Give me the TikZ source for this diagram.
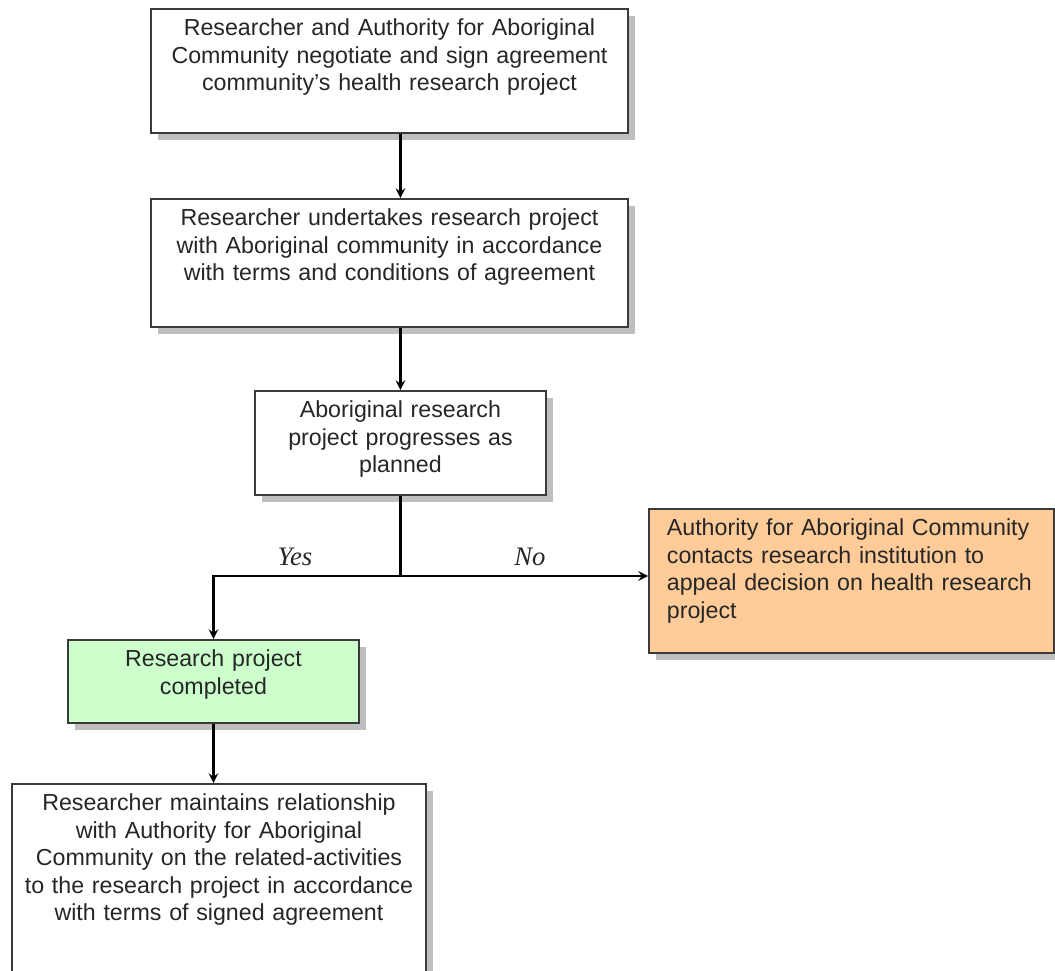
\documentclass[tikz,border=0pt]{standalone}
\usepackage{fontspec}
\setmainfont{Liberation Sans}
\newfontfamily\labelfont{Liberation Serif}
\usetikzlibrary{shapes.geometric, arrows, shadows, positioning}
\definecolor{appealOrange}{HTML}{FFCC99}
\definecolor{doneGreen}{HTML}{CCFFCC}
\definecolor{edgeGray}{HTML}{3A3A3A}
\tikzstyle{recNode} = [rectangle, anchor=north west, align=center, draw=edgeGray, line width=1.3pt, fill=white, inner xsep=0pt, inner ysep=0.15cm, text height=0.525cm, text=black!85, font=\fontsize{16.5}{19.5}\selectfont, drop shadow={shadow xshift=0.17cm, shadow yshift=-0.17cm, fill=black!25, opacity=1}]
\tikzstyle{recNodeO} = [recNode, fill=appealOrange, align=left, inner xsep=0.45cm]
\tikzstyle{recNodeG} = [recNode, fill=doneGreen]
\tikzstyle{eNode} = [text=black!85, font=\labelfont\itshape\fontsize{19}{21}\selectfont]
\tikzstyle{line} = [line width=2pt, draw=black]
\tikzstyle{arrow} = [line width=2pt, ->, >=stealth, draw=black]

\begin{document}
\begin{tikzpicture}[x=0.025cm, y=-0.025cm]
        \useasboundingbox (0,0) rectangle (1055,971);
        \node (agree) [recNode, text width=11.925cm, text depth=2.275cm] at (150,8) {Researcher and Authority for Aboriginal\\Community negotiate and sign agreement\\community's health research project};
        \node (undertake) [recNode, text width=11.925cm, text depth=2.375cm] at (150,198) {Researcher undertakes research project\\with Aboriginal community in accordance\\with terms and conditions of agreement};
        \node (progress) [recNode, text width=7.275cm, text depth=1.775cm] at (254,390) {Aboriginal research\\project progresses as\\planned};
        \node (appeal) [recNodeO, text width=9.225cm, text depth=2.775cm] at (648,508) {Authority for Aboriginal Community\\contacts research institution to\\appeal decision on health research\\project};
        \node (completed) [recNodeG, text width=7.275cm, text depth=1.25cm] at (67,639) {Research project\\completed};
        \node (maintain) [recNode, text width=10.35cm, text depth=4.3cm] at (11,783) {Researcher maintains relationship\\with Authority for Aboriginal\\Community on the related-activities\\to the research project in accordance\\with terms of signed agreement};
        \coordinate (split) at (progress.south |- 0,576);
        \node (yes) [eNode] at (295,557) {Yes};
        \node (no) [eNode] at (530,557) {No};

        \draw [arrow] (agree.south -| progress.north) -- (undertake.north -| progress.north);
        \draw [arrow] (undertake.south -| progress.north) -- (progress.north);
        \draw [line] (progress.south) -- (split);
        \draw [arrow] (split) -- (split -| appeal.west);
        \draw [arrow] (split) -| (completed.north);
        \draw [arrow] (completed.south) -- (completed.south |- maintain.north);
\end{tikzpicture}
\end{document}
